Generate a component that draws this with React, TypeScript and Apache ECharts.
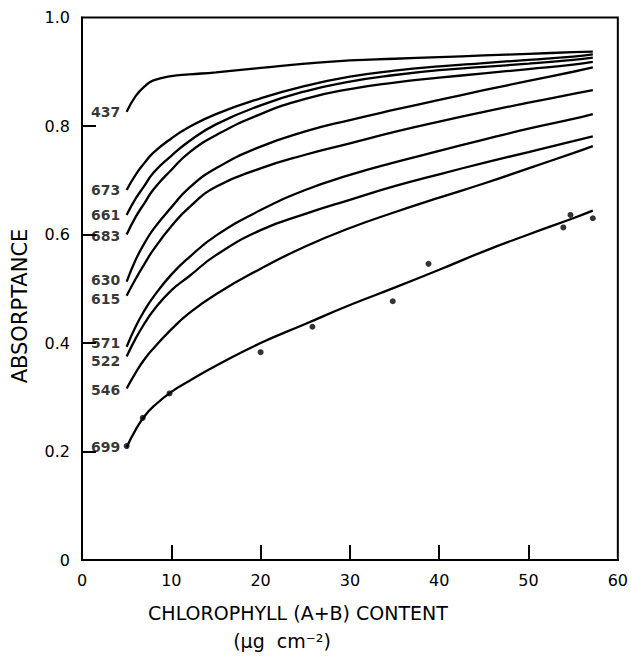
import React, { useEffect, useRef } from "react";
import * as echarts from "echarts";

// Chlorophyll (a+b) content, µg cm^-2, at which each curve is sampled
const CHL = [5, 6, 7, 8, 10, 12, 15, 20, 25, 30, 35, 40, 45, 50, 55, 57.2];

// Absorptance curves, one per wavelength (nm)
const A437 = [0.826, 0.855, 0.873, 0.884, 0.892, 0.895, 0.899, 0.907, 0.915, 0.921, 0.924, 0.927, 0.930, 0.933, 0.936, 0.937];
const A673 = [0.682, 0.710, 0.732, 0.751, 0.777, 0.798, 0.822, 0.851, 0.874, 0.891, 0.902, 0.910, 0.916, 0.922, 0.928, 0.932];
const A661 = [0.636, 0.666, 0.690, 0.714, 0.745, 0.772, 0.803, 0.838, 0.864, 0.882, 0.894, 0.903, 0.909, 0.915, 0.922, 0.926];
const A683 = [0.600, 0.632, 0.658, 0.683, 0.719, 0.751, 0.783, 0.822, 0.850, 0.868, 0.880, 0.889, 0.897, 0.905, 0.913, 0.918];
const A630 = [0.513, 0.553, 0.584, 0.610, 0.650, 0.686, 0.722, 0.762, 0.790, 0.811, 0.830, 0.848, 0.866, 0.883, 0.900, 0.908];
const A615 = [0.487, 0.518, 0.546, 0.572, 0.615, 0.650, 0.688, 0.722, 0.747, 0.768, 0.789, 0.808, 0.826, 0.843, 0.859, 0.866];
const A571 = [0.393, 0.430, 0.460, 0.485, 0.526, 0.558, 0.598, 0.645, 0.682, 0.710, 0.733, 0.754, 0.775, 0.795, 0.813, 0.822];
const A522 = [0.375, 0.408, 0.436, 0.460, 0.497, 0.523, 0.562, 0.608, 0.638, 0.664, 0.689, 0.711, 0.732, 0.752, 0.772, 0.781];
const A546 = [0.316, 0.345, 0.370, 0.390, 0.425, 0.455, 0.490, 0.537, 0.578, 0.612, 0.641, 0.668, 0.694, 0.722, 0.750, 0.763];
const A699 = [0.208, 0.240, 0.265, 0.283, 0.310, 0.330, 0.358, 0.400, 0.435, 0.470, 0.502, 0.535, 0.569, 0.600, 0.630, 0.644];

// Measured absorptance at 699 nm
const OBS_CHL = [5, 6.8, 9.8, 20, 25.8, 34.8, 38.8, 53.9, 54.7, 57.2];
const OBS_A699 = [0.21, 0.262, 0.307, 0.383, 0.43, 0.477, 0.546, 0.613, 0.636, 0.63];

const CURVES: { name: string; values: number[]; nudge: number }[] = [
  { name: "437", values: A437, nudge: 0 },
  { name: "673", values: A673, nudge: 0 },
  { name: "661", values: A661, nudge: 0 },
  { name: "683", values: A683, nudge: 1 },
  { name: "630", values: A630, nudge: -2 },
  { name: "615", values: A615, nudge: 3 },
  { name: "571", values: A571, nudge: -4 },
  { name: "522", values: A522, nudge: 4 },
  { name: "546", values: A546, nudge: 1 },
  { name: "699", values: A699, nudge: 0 },
];

const X_TICKS = [0, 10, 20, 30, 40, 50, 60];
const Y_TICKS = [0, 0.2, 0.4, 0.6, 0.8, 1.0];

const FONT = "DejaVu Sans";
const INK = "#000";

export default function App() {
  const ref = useRef<HTMLDivElement>(null);

  useEffect(() => {
    if (!ref.current) return;
    const chart = echarts.init(ref.current, null, { renderer: "svg" });

    const lineSeries: any[] = CURVES.map((c) => ({
      type: "line",
      name: c.name,
      smooth: 0.5,
      showSymbol: false,
      symbol: "none",
      lineStyle: { color: INK, width: 2.3 },
      silent: true,
      z: 3,
      data: CHL.map((x, i) => [x, c.values[i]]),
    }));

    const titles = [
      {
        type: "text",
        x: 20,
        y: 306,
        rotation: Math.PI / 2,
        style: {
          text: "ABSORPTANCE",
          fill: INK,
          font: `21px "${FONT}"`,
          align: "center",
          verticalAlign: "middle",
        },
      },
      {
        type: "text",
        x: 298,
        y: 613,
        style: {
          text: "CHLOROPHYLL (A+B) CONTENT",
          fill: INK,
          font: `19px "${FONT}"`,
          align: "center",
          verticalAlign: "middle",
        },
      },
      {
        type: "text",
        x: 282,
        y: 641,
        style: {
          text: "(µg  cm⁻²)",
          fill: INK,
          font: `19px "${FONT}"`,
          align: "center",
          verticalAlign: "middle",
        },
      },
    ];

    const baseSeries: any[] = [
      ...lineSeries,
      {
        type: "scatter",
        name: "wavelength labels",
        symbol: "circle",
        symbolSize: 1,
        itemStyle: { color: "rgba(0,0,0,0)" },
        silent: true,
        z: 5,
        label: {
          show: true,
          position: "left",
          distance: 6,
          color: INK,
          fontSize: 14,
          fontWeight: "bold",
          fontFamily: FONT,
          formatter: (p: any) => p.name,
        },
        data: CURVES.map((c) => ({
          name: c.name,
          value: [CHL[0], c.values[0]],
          label: { offset: [0, c.nudge] },
        })),
      },
      {
        type: "scatter",
        name: "699 measured",
        symbol: "circle",
        symbolSize: 6,
        itemStyle: { color: INK },
        silent: true,
        z: 4,
        data: OBS_CHL.map((x, i) => [x, OBS_A699[i]]),
      },
    ];

    chart.setOption({
      animation: false,
      backgroundColor: "#fff",
      grid: {
        left: 82,
        right: 10,
        top: 17.5,
        bottom: 96,
        show: true,
        borderColor: INK,
        borderWidth: 2,
        backgroundColor: "transparent",
      },
      xAxis: {
        type: "value",
        min: X_TICKS[0],
        max: X_TICKS[X_TICKS.length - 1],
        interval: 10,
        axisLine: { show: true, lineStyle: { color: INK, width: 2 } },
        axisTick: { show: false },
        splitLine: { show: false },
        axisLabel: { color: INK, fontSize: 16, fontFamily: FONT, margin: 12 },
      },
      yAxis: {
        type: "value",
        min: Y_TICKS[0],
        max: Y_TICKS[Y_TICKS.length - 1],
        interval: 0.2,
        axisLine: { show: true, lineStyle: { color: INK, width: 2 } },
        axisTick: { show: false },
        splitLine: { show: false },
        axisLabel: {
          color: INK,
          fontSize: 16,
          fontFamily: FONT,
          margin: 12,
          formatter: (v: number) => (v === 0 ? "0" : v.toFixed(1)),
        },
      },
      graphic: titles,
      series: baseSeries,
    });

    // tick lengths in data units, taken from the chart's own scales
    const origin = chart.convertToPixel({ gridIndex: 0 }, [X_TICKS[0], Y_TICKS[0]]) as number[];
    const xTickTop = (chart.convertFromPixel({ gridIndex: 0 }, [origin[0], origin[1] - 15]) as number[])[1];
    const yTickEnd = (chart.convertFromPixel({ gridIndex: 0 }, [origin[0] + 14, origin[1]]) as number[])[0];

    // inward tick marks drawn as mark lines on a carrier series
    const tickSeries = {
      type: "line",
      name: "axis ticks",
      data: [],
      silent: true,
      z: 10,
      markLine: {
        silent: true,
        symbol: ["none", "none"],
        label: { show: false },
        lineStyle: { color: INK, width: 2, type: "solid" },
        emphasis: { disabled: true },
        data: [
          ...X_TICKS.slice(1, -1).map((t) => [
            { coord: [t, Y_TICKS[0]] },
            { coord: [t, xTickTop] },
          ]),
          ...Y_TICKS.slice(1, -1).map((t) => [
            { coord: [X_TICKS[0], t] },
            { coord: [yTickEnd, t] },
          ]),
        ],
      },
    };

    chart.setOption({ series: [...baseSeries, tickSeries] });

    return () => chart.dispose();
  }, []);

  return (
    <div
      ref={ref}
      style={{ position: "fixed", left: 0, top: 0, width: 631, height: 656, background: "#fff" }}
    />
  );
}
